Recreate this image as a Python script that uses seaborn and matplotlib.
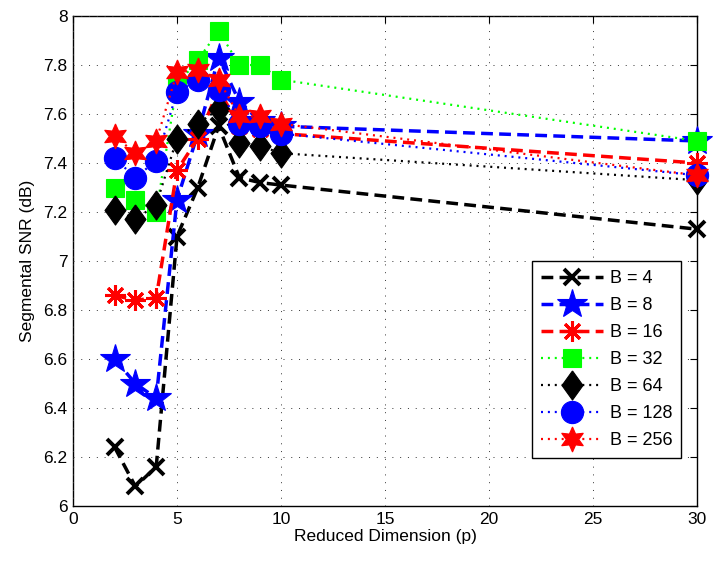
import numpy as np
import pandas as pd
import matplotlib
matplotlib.use("Agg")
import matplotlib.pyplot as plt
import seaborn as sns

# Reduced dimension p
dims = [2, 3, 4, 5, 6, 7, 8, 9, 10, 30]

# Segmental SNR (dB) for each codebook size B
snr_b4 = [6.24, 6.08, 6.16, 7.10, 7.30, 7.55, 7.34, 7.32, 7.31, 7.13]
snr_b8 = [6.60, 6.50, 6.44, 7.25, 7.52, 7.83, 7.65, 7.57, 7.55, 7.49]
snr_b16 = [6.86, 6.84, 6.85, 7.37, 7.50, 7.70, 7.55, 7.54, 7.52, 7.40]
snr_b32 = [7.30, 7.25, 7.20, 7.72, 7.82, 7.94, 7.80, 7.80, 7.74, 7.49]
snr_b64 = [7.21, 7.17, 7.23, 7.50, 7.56, 7.62, 7.48, 7.47, 7.44, 7.33]
snr_b128 = [7.42, 7.34, 7.41, 7.69, 7.74, 7.70, 7.56, 7.55, 7.52, 7.35]
snr_b256 = [7.51, 7.44, 7.49, 7.77, 7.78, 7.74, 7.59, 7.59, 7.56, 7.35]

labels = ["B = 4", "B = 8", "B = 16", "B = 32", "B = 64", "B = 128", "B = 256"]

sns.set_theme(style="white")
plt.rcParams["font.family"] = ["Liberation Sans", "DejaVu Sans"]
plt.rcParams["xtick.direction"] = "in"
plt.rcParams["ytick.direction"] = "in"

diamond = [(0, 1), (0.72, 0), (0, -1), (-0.72, 0), (0, 1)]
dashed = (0, (3.4, 1.8))
dotted = (0, (0.9, 2.2))

styles = [
    dict(color="black", ls=dashed, lw=2.5, marker="x", ms=12, mew=2.8),
    dict(color="blue", ls=dashed, lw=2.5, marker="*", ms=22, mew=0.8),
    dict(color="red", ls=dashed, lw=2.5, marker=(8, 2, 0), ms=15, mew=2.2),
    dict(color="#00ff00", ls=dotted, lw=1.6, marker="s", ms=13, mew=0.8),
    dict(color="black", ls=dotted, lw=1.6, marker=diamond, ms=21, mew=0.8),
    dict(color="blue", ls=dotted, lw=1.6, marker="o", ms=16, mew=0.8),
    dict(color="red", ls=dotted, lw=1.6, marker=(6, 1, 0), ms=18, mew=0.8),
]
series = [snr_b4, snr_b8, snr_b16, snr_b32, snr_b64, snr_b128, snr_b256]

fig = plt.figure(figsize=(7.13, 5.62), dpi=100)
ax = fig.add_axes([0.1024, 0.0996, 0.8752, 0.8719])

for vals, lab, st in zip(series, labels, styles):
    df = pd.DataFrame({"p": dims, "snr": vals})
    sns.lineplot(data=df, x="p", y="snr", ax=ax, label=lab,
                 color=st["color"], linestyle=st["ls"], linewidth=st["lw"],
                 marker=st["marker"], markersize=st["ms"],
                 markeredgewidth=st["mew"], markeredgecolor=st["color"],
                 markerfacecolor=st["color"], legend=False, clip_on=False)

ax.set_xlim(0, 30)
ax.set_ylim(6, 8)
ax.set_xticks(np.arange(0, 31, 5))
ax.set_yticks(np.arange(6, 8.01, 0.2))
ax.set_yticklabels(["6", "6.2", "6.4", "6.6", "6.8", "7", "7.2", "7.4", "7.6", "7.8", "8"])
ax.tick_params(axis="both", labelsize=12.5, length=5, width=0.8, color="black",
               top=True, right=True, pad=4, labelcolor="black")
ax.grid(True, color="#333333", linestyle=(0, (1, 7)), linewidth=0.7)
for sp in ax.spines.values():
    sp.set_color("black")
    sp.set_linewidth(1.0)
    sp.set_zorder(0.5)
ax.set_xlabel("Reduced Dimension (p)", fontsize=12.5, color="black", labelpad=2)
ax.set_ylabel("Segmental SNR (dB)", fontsize=12.5, color="black", labelpad=6)

leg = ax.legend(loc="lower right", bbox_to_anchor=(0.975, 0.098), fontsize=13,
                numpoints=1, handlelength=3.4, labelspacing=0.55, borderpad=0.5,
                handletextpad=0.4, fancybox=False, framealpha=1, edgecolor="black",
                borderaxespad=0)
leg.get_frame().set_linewidth(1.0)
leg.set_zorder(5)
for t in leg.get_texts():
    t.set_color("black")

fig.savefig("out.png", dpi=100)
